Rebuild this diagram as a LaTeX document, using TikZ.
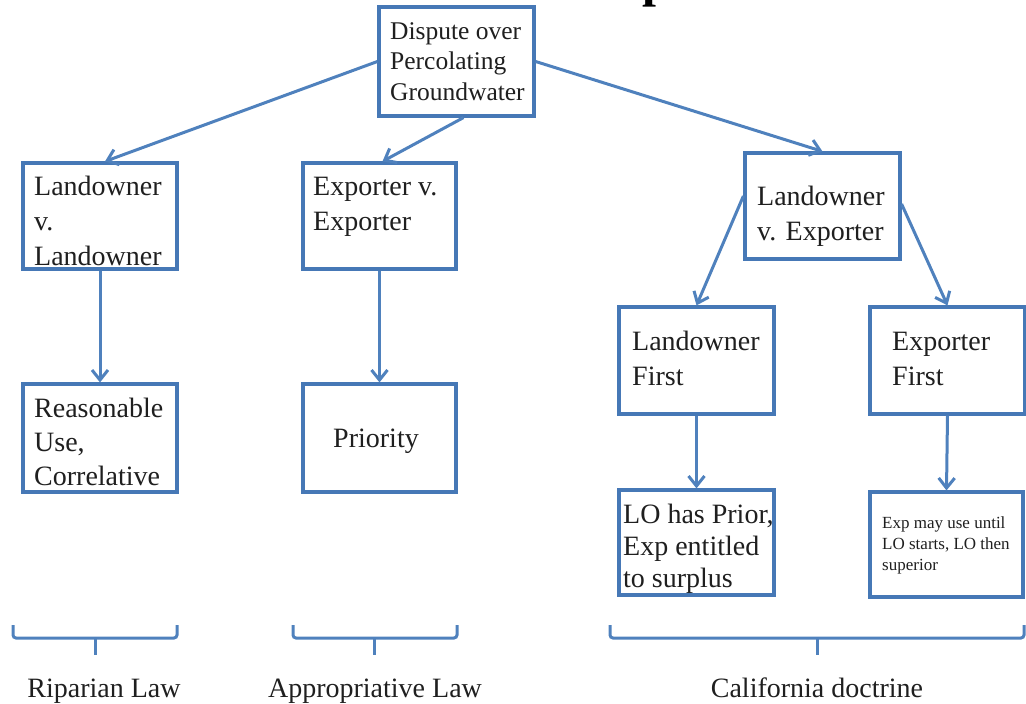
\documentclass[tikz,border=0pt]{standalone}
\usepackage{fontspec}
\setmainfont{Liberation Serif}
\usetikzlibrary{arrows.meta,calc}
\definecolor{boxc}{RGB}{70,120,182}
\definecolor{arrc}{RGB}{79,129,189}
\begin{document}
\begin{tikzpicture}[x=1pt,y=-1pt,
  box/.style={draw=boxc,line width=3.2pt,inner sep=0pt,rectangle,fill=white},
  txt/.style={anchor=base west,align=left,inner sep=0pt,font=\fontsize{28}{35}\selectfont,text=black!88},
  conn/.style={draw=arrc,line width=3pt,-{Straight Barb[length=10pt,width=16pt]}},
  brace/.style={draw=arrc,line width=3pt,rounded corners=3pt},
  lab/.style={anchor=base,inner sep=0pt,font=\fontsize{28}{34}\selectfont,text=black!88}]
\useasboundingbox (0,0) rectangle (1026,704);
% title fragment
\begin{scope}
\clip (600,0) rectangle (700,20);
\node[anchor=base west,inner sep=0pt,font=\fontsize{50}{50}\selectfont\bfseries] (ttl) at (642,-3) {p};
\end{scope}
% boxes
\node[box,minimum width=155pt,minimum height=109pt] (top) at (456.5,61.5) {};
\node[box,minimum width=154pt,minimum height=106pt] (lvl) at (100,216) {};
\node[box,minimum width=154pt,minimum height=108pt] (ru) at (100,438) {};
\node[box,minimum width=153pt,minimum height=106pt] (exe) at (379.5,216) {};
\node[box,minimum width=153pt,minimum height=108pt] (pri) at (379.5,438) {};
\node[box,minimum width=155pt,minimum height=106pt] (lve) at (822.5,206) {};
\node[box,minimum width=155pt,minimum height=107pt] (lf) at (696.5,360.5) {};
\node[box,minimum width=155pt,minimum height=107pt] (ef) at (947.5,360.5) {};
\node[box,minimum width=155pt,minimum height=105pt] (lo) at (696.5,542.5) {};
\node[box,minimum width=153pt,minimum height=105pt] (exp) at (946.5,544.5) {};
% texts (anchored at the baseline of the last line)
\node[txt,font=\fontsize{25.5}{30.5}\selectfont] (ttop) at (390,100) {Dispute over\\Percolating\\Groundwater};
\node[txt] (tlvl) at (34,265) {Landowner\\v.\\Landowner};
\node[txt,font=\fontsize{28}{34}\selectfont] (tru) at (34,485) {Reasonable\\Use,\\Correlative};
\node[txt] (texe) at (313,230) {Exporter v.\\Exporter};
\node[txt,anchor=base] (tpri) at (376,447) {Priority};
\node[txt] (tlve) at (757,240) {Landowner\\v. Exporter};
\node[txt] (tlf) at (632,385) {Landowner\\First};
\node[txt] (tef) at (892,385) {Exporter\\First};
\node[txt,font=\fontsize{28}{32}\selectfont] (tlo) at (623,587) {LO has Prior,\\Exp entitled\\to surplus};
\node[txt,font=\fontsize{17}{21}\selectfont] (texp) at (882,570) {Exp may use until\\LO starts, LO then\\superior};
% connectors
\draw[conn] (top.west) -- ([xshift=5pt]lvl.north);
\draw[conn] ([xshift=7pt]top.south) -- ([xshift=3pt]exe.north);
\draw[conn] (top.east) -- (lve.north);
\draw[conn] (lvl.south) -- (ru.north);
\draw[conn] (exe.south) -- (pri.north);
\draw[conn] ([yshift=10pt]lve.west) -- (lf.north);
\draw[conn] ([yshift=2pt]lve.east) -- (ef.north);
\draw[conn] (lf.south) -- (lo.north);
\draw[conn] (ef.south) -- (exp.north);
% braces
\coordinate (b1) at (95,655);
\coordinate (b2) at (374,655);
\coordinate (b3) at (817,655);
\draw[brace] (13,625) -- (13,638) -- (177,638) -- (177,625);
\draw[draw=arrc,line width=3pt] (95,638) -- (b1);
\draw[brace] (293,625) -- (293,638) -- (457,638) -- (457,625);
\draw[draw=arrc,line width=3pt] (374,638) -- (b2);
\draw[brace] (610,625) -- (610,638) -- (1024,638) -- (1024,625);
\draw[draw=arrc,line width=3pt] (817,638) -- (b3);
% labels
\node[lab] (l1) at (104,697) {Riparian Law};
\node[lab] (l2) at (375,697) {Appropriative Law};
\node[lab] (l3) at (817,697) {California doctrine};
\end{tikzpicture}
\end{document}
